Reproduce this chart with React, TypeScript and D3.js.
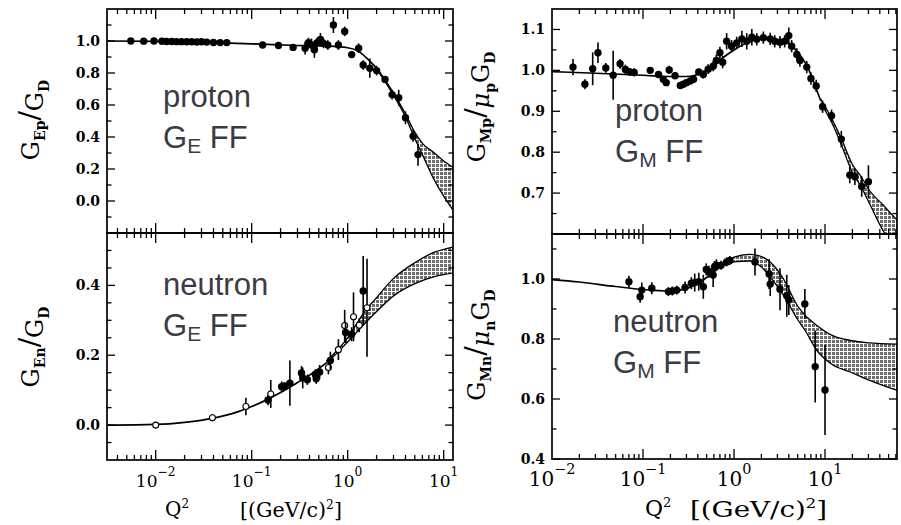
import React from 'react';
import * as d3 from 'd3';

// ---------- Panel A: proton G_E ----------
const gepQ2 = [0.0055, 0.0075, 0.0096, 0.0116, 0.013, 0.0147, 0.0165, 0.0186, 0.021, 0.0237, 0.0268, 0.030, 0.034, 0.040, 0.047, 0.055, 0.13, 0.19, 0.27, 0.36, 0.39, 0.42, 0.45, 0.48, 0.52, 0.56, 0.62, 0.71, 0.80, 0.93, 1.1, 1.3, 1.45, 1.7, 2.0, 2.45, 2.9, 3.4, 4.0, 4.8, 5.4];
const gepVal = [1.0, 0.999, 1.0, 0.998, 0.997, 0.997, 0.996, 0.996, 0.995, 0.995, 0.994, 0.995, 0.993, 0.991, 0.99, 0.99, 0.975, 0.972, 0.96, 0.955, 0.99, 0.975, 0.945, 0.99, 1.01, 0.985, 0.975, 1.10, 0.975, 1.06, 0.915, 0.955, 0.85, 0.83, 0.815, 0.76, 0.665, 0.645, 0.52, 0.405, 0.29];
const gepErr = [0.004, 0.004, 0.004, 0.004, 0.004, 0.004, 0.004, 0.004, 0.004, 0.004, 0.004, 0.004, 0.004, 0.004, 0.004, 0.004, 0.01, 0.012, 0.015, 0.04, 0.03, 0.04, 0.05, 0.03, 0.04, 0.03, 0.03, 0.05, 0.03, 0.03, 0.02, 0.03, 0.03, 0.06, 0.03, 0.02, 0.03, 0.05, 0.04, 0.035, 0.07];
const gepCurveQ2 = [0.003, 0.01, 0.03, 0.1, 0.3, 0.6, 1.0, 1.3, 1.6, 2.0];
const gepCurveVal = [1.0, 0.998, 0.993, 0.982, 0.972, 0.968, 0.958, 0.935, 0.89, 0.83];
const gepBandQ2 = [2.0, 3.0, 4.0, 5.0, 6.0, 8.0, 10.0, 12.6];
const gepBandLo = [0.825, 0.66, 0.525, 0.39, 0.29, 0.13, 0.03, -0.06];
const gepBandHi = [0.835, 0.675, 0.545, 0.43, 0.36, 0.30, 0.25, 0.21];

// ---------- Panel B: neutron G_E ----------
const genQ2 = [0.01, 0.039, 0.087, 0.148, 0.158, 0.205, 0.22, 0.25, 0.33, 0.34, 0.38, 0.46, 0.47, 0.51, 0.63, 0.66, 0.8, 0.93, 0.95, 1.1, 1.15, 1.32, 1.45, 1.59];
const genVal = [0.0, 0.021, 0.053, 0.072, 0.089, 0.11, 0.112, 0.12, 0.149, 0.135, 0.13, 0.145, 0.133, 0.152, 0.165, 0.185, 0.216, 0.285, 0.265, 0.26, 0.31, 0.286, 0.384, 0.336];
const genErr = [0.005, 0.01, 0.025, 0.015, 0.04, 0.015, 0.01, 0.065, 0.02, 0.03, 0.015, 0.015, 0.015, 0.02, 0.02, 0.025, 0.03, 0.045, 0.03, 0.02, 0.07, 0.02, 0.1, 0.14];
const genOpen = [1, 1, 1, 0, 1, 0, 0, 0, 0, 0, 0, 0, 0, 0, 1, 0, 1, 1, 0, 0, 1, 1, 0, 1];
const genCurveQ2 = [0.003, 0.01, 0.02, 0.04, 0.07, 0.1, 0.15, 0.2, 0.3, 0.4, 0.6];
const genCurveVal = [0.0, 0.002, 0.008, 0.02, 0.037, 0.053, 0.075, 0.093, 0.122, 0.143, 0.178];
const genBandQ2 = [0.6, 0.8, 1.0, 1.5, 2.0, 3.0, 5.0, 8.0, 12.6];
const genBandLo = [0.178, 0.21, 0.238, 0.29, 0.325, 0.37, 0.405, 0.425, 0.435];
const genBandHi = [0.183, 0.218, 0.25, 0.325, 0.365, 0.42, 0.465, 0.495, 0.51];

// ---------- Panel C: proton G_M ----------
const gmpQ2 = [0.017, 0.023, 0.028, 0.032, 0.039, 0.047, 0.056, 0.064, 0.072, 0.08, 0.12, 0.148, 0.167, 0.18, 0.194, 0.225, 0.257, 0.277, 0.30, 0.33, 0.36, 0.41, 0.46, 0.52, 0.59, 0.64, 0.70, 0.75, 0.83, 0.94, 1.07, 1.22, 1.38, 1.57, 1.78, 2.1, 2.5, 2.8, 3.2, 3.6, 4.0, 4.3, 4.9, 5.3, 6.3, 7.0, 8.0, 9.4, 11.8, 15.1, 18.7, 21.3, 25.3, 30];
const gmpVal = [1.008, 0.966, 1.004, 1.043, 1.006, 0.988, 1.016, 1.002, 0.996, 0.995, 1.0, 0.99, 0.978, 0.97, 1.001, 0.987, 0.963, 0.966, 0.97, 0.974, 0.978, 0.996, 0.99, 1.003, 1.01, 1.024, 1.043, 1.02, 1.071, 1.059, 1.067, 1.077, 1.071, 1.081, 1.076, 1.08, 1.077, 1.071, 1.069, 1.071, 1.085, 1.059, 1.039, 1.024, 1.008, 0.98, 0.962, 0.911, 0.889, 0.832, 0.744, 0.74, 0.716, 0.728];
const gmpErr = [0.02, 0.012, 0.04, 0.025, 0.012, 0.06, 0.012, 0.012, 0.01, 0.01, 0.008, 0.008, 0.008, 0.008, 0.01, 0.008, 0.006, 0.006, 0.006, 0.006, 0.008, 0.008, 0.01, 0.012, 0.012, 0.015, 0.015, 0.015, 0.02, 0.015, 0.015, 0.02, 0.02, 0.02, 0.015, 0.015, 0.015, 0.015, 0.015, 0.015, 0.02, 0.015, 0.015, 0.015, 0.015, 0.015, 0.015, 0.015, 0.015, 0.02, 0.02, 0.02, 0.025, 0.04];
const gmpCurveQ2 = [0.01, 0.03, 0.1, 0.2, 0.3, 0.45, 0.6, 0.8, 1.0, 1.5, 2.0, 3.0, 4.0, 5.0, 6.0, 7.0, 8.0, 9.0];
const gmpCurveVal = [0.997, 0.993, 0.988, 0.985, 0.985, 0.995, 1.012, 1.035, 1.05, 1.07, 1.076, 1.075, 1.065, 1.045, 1.02, 0.99, 0.955, 0.925];
const gmpBandQ2 = [9, 12, 15, 20, 25, 30, 43, 63];
const gmpBandLo = [0.92, 0.87, 0.82, 0.75, 0.715, 0.68, 0.61, 0.555];
const gmpBandHi = [0.93, 0.88, 0.835, 0.77, 0.74, 0.71, 0.672, 0.632];

// ---------- Panel D: neutron G_M ----------
const gmnQ2 = [0.070, 0.093, 0.097, 0.125, 0.19, 0.21, 0.235, 0.29, 0.34, 0.37, 0.41, 0.46, 0.495, 0.53, 0.59, 0.61, 0.64, 0.72, 0.83, 0.9, 1.7, 2.43, 2.5, 3.2, 3.8, 4.0, 6.0, 7.8, 10];
const gmnVal = [0.991, 0.941, 0.963, 0.969, 0.958, 0.96, 0.963, 0.972, 0.986, 0.988, 0.991, 0.974, 1.032, 1.024, 1.013, 1.04, 1.046, 1.046, 1.057, 1.062, 1.057, 1.017, 0.983, 0.966, 0.944, 0.93, 0.917, 0.708, 0.63];
const gmnErr = [0.02, 0.02, 0.025, 0.02, 0.015, 0.015, 0.015, 0.02, 0.02, 0.03, 0.03, 0.04, 0.02, 0.02, 0.04, 0.02, 0.02, 0.015, 0.015, 0.015, 0.045, 0.05, 0.04, 0.07, 0.07, 0.05, 0.05, 0.12, 0.15];
const gmnCurveQ2 = [0.01, 0.02, 0.05, 0.1, 0.2, 0.3, 0.4, 0.5, 0.6, 0.8];
const gmnCurveVal = [0.998, 0.99, 0.975, 0.965, 0.96, 0.968, 0.985, 1.005, 1.025, 1.05];
const gmnBandQ2 = [0.8, 1.0, 1.5, 2.0, 3.0, 3.5, 5.0, 6.0, 8.0, 12, 19, 30, 63];
const gmnBandLo = [1.045, 1.057, 1.06, 1.04, 0.975, 0.945, 0.865, 0.83, 0.765, 0.715, 0.69, 0.664, 0.628];
const gmnBandHi = [1.055, 1.073, 1.082, 1.075, 1.03, 1.0, 0.91, 0.88, 0.847, 0.812, 0.795, 0.787, 0.783];

// ---------- axes ----------
const leftXDomain: [number, number] = [0.00311, 12.5];
const rightXDomain: [number, number] = [0.01, 61.8];
const xTickLabels = [
  { v: 0.01, exp: '\u22122' },
  { v: 0.1, exp: '\u22121' },
  { v: 1, exp: '0' },
  { v: 10, exp: '1' },
];
const gepYLabels = [0.0, 0.2, 0.4, 0.6, 0.8, 1.0];
const gepYMinor = [-0.1, 0.1, 0.3, 0.5, 0.7, 0.9, 1.1];
const genYLabels = [0.0, 0.2, 0.4];
const genYMinor = [-0.05, 0.05, 0.1, 0.15, 0.25, 0.3, 0.35, 0.45, 0.5];
const gmpYLabels = [0.7, 0.8, 0.9, 1.0, 1.1];
const gmpYMinor = [0.65, 0.75, 0.85, 0.95, 1.05];
const gmnYLabels = [0.4, 0.6, 0.8, 1.0];
const gmnYMinor = [0.5, 0.7, 0.9, 1.1];

const TICK_FONT = 'DejaVu Serif';
const NOTE_COLOR = '#3b3b45';

type Pt = { q: number; v: number; e: number; open: boolean };

type PanelProps = {
  id: string;
  x0: number; x1: number; y0: number; y1: number;
  xDomain: [number, number];
  yDomain: [number, number];
  yLabels: number[];
  yMinor: number[];
  labelDigits: number;
  showXLabels: boolean;
  xLabelSize: number;
  points: Pt[];
  curve: [number, number][];
  band: [number, number, number][];
};

function Panel(p: PanelProps) {
  const x = d3.scaleLog().domain(p.xDomain).range([p.x0, p.x1]);
  const y = d3.scaleLinear().domain(p.yDomain).range([p.y1, p.y0]);
  const lo = Math.floor(Math.log10(p.xDomain[0]));
  const hi = Math.ceil(Math.log10(p.xDomain[1]));
  const xt: { v: number; major: boolean }[] = [];
  for (let d = lo; d <= hi; d++) {
    for (let m = 1; m <= 9; m++) {
      const v = m * Math.pow(10, d);
      if (v > p.xDomain[0] * 1.0001 && v < p.xDomain[1] * 0.9999) xt.push({ v, major: m === 1 });
    }
  }
  const line = d3.line<[number, number]>().x(d => x(d[0])).y(d => y(d[1])).curve(d3.curveMonotoneX);
  const area = d3.area<[number, number, number]>().x(d => x(d[0])).y0(d => y(d[1])).y1(d => y(d[2])).curve(d3.curveMonotoneX);
  const lowLine = d3.line<[number, number, number]>().x(d => x(d[0])).y(d => y(d[1])).curve(d3.curveMonotoneX);
  const highLine = d3.line<[number, number, number]>().x(d => x(d[0])).y(d => y(d[2])).curve(d3.curveMonotoneX);
  const yT = [...p.yLabels.map(v => ({ v, major: true })), ...p.yMinor.map(v => ({ v, major: false }))];
  const clip = `clip-${p.id}`;
  return (
    <g>
      <defs>
        <clipPath id={clip}>
          <rect x={p.x0} y={p.y0} width={p.x1 - p.x0} height={p.y1 - p.y0} />
        </clipPath>
      </defs>
      <g clipPath={`url(#${clip})`}>
        <path d={area(p.band) || ''} fill="url(#hatch)" />
        <path d={lowLine(p.band) || ''} fill="none" stroke="#000" strokeWidth={1.3} />
        <path d={highLine(p.band) || ''} fill="none" stroke="#000" strokeWidth={1.3} />
        <path d={line(p.curve) || ''} fill="none" stroke="#000" strokeWidth={1.7} />
        {p.points.map((d, i) => (
          <g key={i}>
            <line x1={x(d.q)} x2={x(d.q)} y1={y(d.v - d.e)} y2={y(d.v + d.e)} stroke="#000" strokeWidth={1.6} />
            <circle cx={x(d.q)} cy={y(d.v)} r={d.open ? 3 : 3.7} fill={d.open ? '#fff' : '#000'} stroke="#000" strokeWidth={d.open ? 1.1 : 0} />
          </g>
        ))}
      </g>
      {xt.map((t, i) => {
        const len = t.major ? 10 : 5;
        const px = x(t.v);
        return (
          <g key={'xt' + i}>
            <line x1={px} x2={px} y1={p.y1} y2={p.y1 - len} stroke="#000" strokeWidth={1.3} />
            <line x1={px} x2={px} y1={p.y0} y2={p.y0 + len} stroke="#000" strokeWidth={1.3} />
          </g>
        );
      })}
      {yT.map((t, i) => {
        const len = t.major ? 8 : 4.5;
        const py = y(t.v);
        return (
          <g key={'yt' + i}>
            <line x1={p.x0} x2={p.x0 + len} y1={py} y2={py} stroke="#000" strokeWidth={1.3} />
            <line x1={p.x1} x2={p.x1 - len} y1={py} y2={py} stroke="#000" strokeWidth={1.3} />
          </g>
        );
      })}
      {p.yLabels.map((v, i) => (
        <text key={'yl' + i} x={p.x0 - 7} y={y(v)} dy="0.36em" textAnchor="end" fontFamily={TICK_FONT} fontWeight="bold" fontSize={14}>
          {v.toFixed(p.labelDigits)}
        </text>
      ))}
      {p.showXLabels && xTickLabels.map((t, i) => (
        <text key={'xl' + i} x={x(t.v)} y={p.y1 + 27} textAnchor="middle" fontFamily={TICK_FONT} fontSize={p.xLabelSize}>
          10<tspan dy={-p.xLabelSize * 0.62} fontSize={p.xLabelSize * 0.72}>{t.exp}</tspan>
        </text>
      ))}
      <rect x={p.x0} y={p.y0} width={p.x1 - p.x0} height={p.y1 - p.y0} fill="none" stroke="#000" strokeWidth={1.7} />
    </g>
  );
}

function toPts(q: number[], v: number[], e: number[], open?: number[]): Pt[] {
  return q.map((qq, i) => ({ q: qq, v: v[i], e: e[i], open: open ? open[i] === 1 : false }));
}
function zip2(a: number[], b: number[]): [number, number][] {
  return a.map((aa, i) => [aa, b[i]]);
}
function zip3(a: number[], b: number[], c: number[]): [number, number, number][] {
  return a.map((aa, i) => [aa, b[i], c[i]]);
}

function Note({ x, y, top, sub }: { x: number; y: number; top: string; sub: string }) {
  return (
    <g fill={NOTE_COLOR} fontFamily="Liberation Sans, Arial, sans-serif" fontSize={31}>
      <text x={x} y={y}>{top}</text>
      <text x={x} y={y + 41}>
        G<tspan fontSize={21} dy={5}>{sub}</tspan><tspan dy={-5}> FF</tspan>
      </text>
    </g>
  );
}

function YTitle({ cx, cy, a, b, mu }: { cx: number; cy: number; a: string; b: string; mu?: string }) {
  return (
    <text transform={`translate(${cx},${cy}) rotate(-90)`} textAnchor="middle" fontFamily={TICK_FONT} fontSize={24}>
      G<tspan fontSize={14} dy={6} fontWeight="bold">{a}</tspan>
      <tspan dy={-6} fontSize={28}>/</tspan>
      {mu ? (
        <>
          <tspan fontStyle="italic" dy={4}>{'\u03bc'}</tspan>
          <tspan fontSize={14} dy={6} fontWeight="bold">{mu}</tspan>
          <tspan dy={-6}>G</tspan>
        </>
      ) : (
        <tspan dy={4}>G</tspan>
      )}
      <tspan fontSize={14} dy={6} fontWeight="bold">{b}</tspan>
    </text>
  );
}

export default function App() {
  return (
    <svg width={901} height={525} style={{ position: 'absolute', left: 0, top: 0, background: '#fff' }}>
      <defs>
        <pattern id="hatch" width={4} height={4} patternUnits="userSpaceOnUse">
          <rect width={4} height={4} fill="#ffffff" />
          <rect width={3} height={3} fill="#6e6e6e" />
        </pattern>
      </defs>
      <rect width={901} height={525} fill="#fff" />
      <Panel id="a" x0={107} x1={453} y0={9} y1={233} xDomain={leftXDomain} yDomain={[-0.2, 1.2]}
        yLabels={gepYLabels} yMinor={gepYMinor} labelDigits={1} showXLabels={false} xLabelSize={17}
        points={toPts(gepQ2, gepVal, gepErr)} curve={zip2(gepCurveQ2, gepCurveVal)} band={zip3(gepBandQ2, gepBandLo, gepBandHi)} />
      <Panel id="b" x0={107} x1={453} y0={233} y1={460} xDomain={leftXDomain} yDomain={[-0.1, 0.55]}
        yLabels={genYLabels} yMinor={genYMinor} labelDigits={1} showXLabels={true} xLabelSize={17}
        points={toPts(genQ2, genVal, genErr, genOpen)} curve={zip2(genCurveQ2, genCurveVal)} band={zip3(genBandQ2, genBandLo, genBandHi)} />
      <Panel id="c" x0={552} x1={897} y0={9} y1={234} xDomain={rightXDomain} yDomain={[0.6, 1.15]}
        yLabels={gmpYLabels} yMinor={gmpYMinor} labelDigits={1} showXLabels={false} xLabelSize={20}
        points={toPts(gmpQ2, gmpVal, gmpErr)} curve={zip2(gmpCurveQ2, gmpCurveVal)} band={zip3(gmpBandQ2, gmpBandLo, gmpBandHi)} />
      <Panel id="d" x0={552} x1={897} y0={234} y1={459} xDomain={rightXDomain} yDomain={[0.4, 1.15]}
        yLabels={gmnYLabels} yMinor={gmnYMinor} labelDigits={1} showXLabels={true} xLabelSize={20}
        points={toPts(gmnQ2, gmnVal, gmnErr)} curve={zip2(gmnCurveQ2, gmnCurveVal)} band={zip3(gmnBandQ2, gmnBandLo, gmnBandHi)} />

      <Note x={163} y={107} top="proton" sub="E" />
      <Note x={163} y={295} top="neutron" sub="E" />
      <Note x={615} y={121} top="proton" sub="M" />
      <Note x={613} y={332} top="neutron" sub="M" />

      <YTitle cx={39} cy={120} a="Ep" b="D" />
      <YTitle cx={39} cy={347} a="En" b="D" />
      <YTitle cx={485} cy={107} a="Mp" b="D" mu="p" />
      <YTitle cx={485} cy={345} a="Mn" b="D" mu="n" />

      <text x={165} y={516} fontFamily={TICK_FONT} fontSize={20}>Q<tspan dy={-8} fontSize={12}>2</tspan></text>
      <text x={240} y={517} fontFamily={TICK_FONT} fontSize={20} textLength={102} lengthAdjust="spacingAndGlyphs">[(GeV/c)<tspan dy={-8} fontSize={12}>2</tspan><tspan dy={8}>]</tspan></text>
      <text x={645} y={516} fontFamily={TICK_FONT} fontSize={22}>Q<tspan dy={-9} fontSize={13}>2</tspan></text>
      <text x={690} y={517} fontFamily={TICK_FONT} fontSize={22} textLength={137} lengthAdjust="spacingAndGlyphs">[(GeV/c)<tspan dy={-9} fontSize={13}>2</tspan><tspan dy={9}>]</tspan></text>
    </svg>
  );
}
